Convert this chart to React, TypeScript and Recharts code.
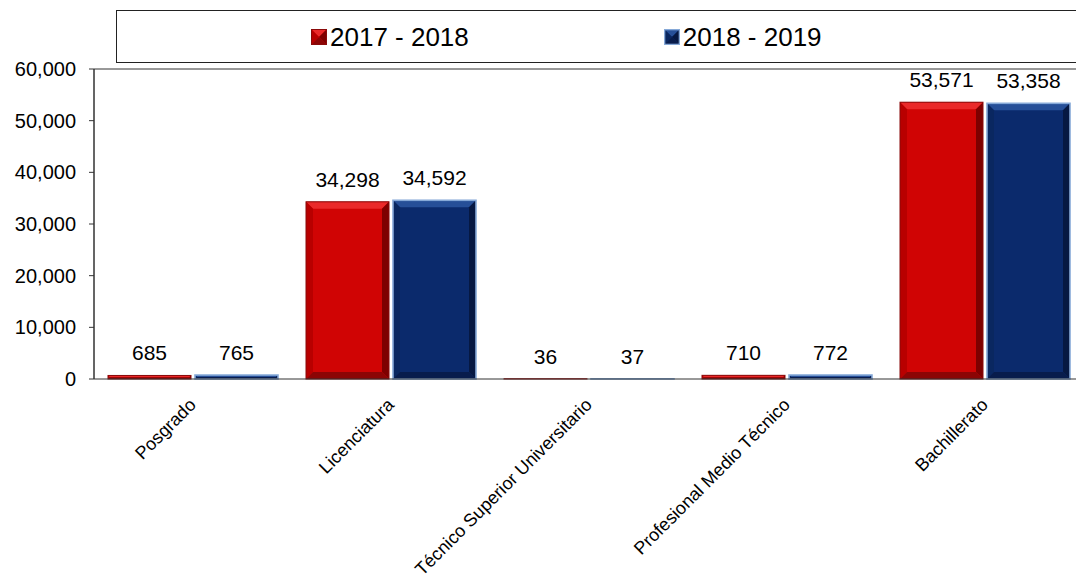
import React from 'react';
import { BarChart, Bar, XAxis, YAxis, CartesianGrid, LabelList, ReferenceLine } from 'recharts';

const categories = ['Posgrado', 'Licenciatura', 'Técnico Superior Universitario', 'Profesional Medio Técnico', 'Bachillerato'];
const series2017 = [685, 34298, 36, 710, 53571];
const series2018 = [765, 34592, 37, 772, 53358];
const seriesNames = ['2017 - 2018', '2018 - 2019'];
const yTicks = [0, 10000, 20000, 30000, 40000, 50000, 60000];
const gridTicks = [0, 1, 2, 3, 4, 5];

const data = categories.map((c, i) => ({ name: c, a: series2017[i], b: series2018[i] }));

const FONT = "Arial, 'Liberation Sans', sans-serif";
const fmt = (v: any) => Number(v).toLocaleString('en-US');

type Pal = { base: string; top: string; left: string; right: string; bottom: string; outline: string; ow: number };
const RED: Pal = { base: '#D00404', top: '#EA2A2A', left: '#B80000', right: '#7E0000', bottom: '#8C0505', outline: '#8A0A0A', ow: 1 };
const BLUE: Pal = { base: '#0B2A6C', top: '#264F98', left: '#0A2760', right: '#061842', bottom: '#081C4C', outline: '#86A9D8', ow: 1.6 };

function bevel(x: number, y: number, w: number, h: number, p: Pal, key?: string) {
  const b = Math.min(7, h / 2, w / 2);
  return (
    <g key={key}>
      <rect x={x} y={y} width={w} height={h} fill={p.base} />
      <polygon points={`${x},${y} ${x + w},${y} ${x + w - b},${y + b} ${x + b},${y + b}`} fill={p.top} />
      <polygon points={`${x},${y} ${x + b},${y + b} ${x + b},${y + h - b} ${x},${y + h}`} fill={p.left} />
      <polygon points={`${x + w},${y} ${x + w},${y + h} ${x + w - b},${y + h - b} ${x + w - b},${y + b}`} fill={p.right} />
      <polygon points={`${x},${y + h} ${x + w},${y + h} ${x + w - b},${y + h - b} ${x + b},${y + h - b}`} fill={p.bottom} />
      <rect x={x} y={y} width={w} height={h} fill="none" stroke={p.outline} strokeWidth={p.ow} />
    </g>
  );
}

const makeShape = (p: Pal) => (props: any) => {
  const { x, y, width, height } = props;
  if (!width || !height || height <= 0) return <g />;
  return bevel(x, y, width, height, p);
};

const CatTick = (props: any) => {
  const { x, y, payload } = props;
  const ax = x + 4;
  const ay = y + 27;
  return (
    <text x={ax} y={ay} textAnchor="end" transform={`rotate(-45, ${ax}, ${ay})`} fontSize={18} fontFamily={FONT} fill="#000">
      {payload.value}
    </text>
  );
};

const LegendBox = () => (
  <div
    style={{
      position: 'absolute', left: 116, top: 10, width: 896, height: 51, border: '1px solid #222',
      display: 'flex', alignItems: 'center', paddingLeft: 194, boxSizing: 'content-box', background: '#fff',
    }}
  >
    {seriesNames.map((n, i) => (
      <div key={n} style={{ display: 'flex', alignItems: 'center', marginRight: 195 }}>
        <svg width={16} height={16} style={{ marginRight: 3 }}>
          {bevel(0.5, 0.5, 15, 15, i === 0 ? RED : BLUE)}
        </svg>
        <span style={{ fontFamily: FONT, fontSize: 26, color: '#000', lineHeight: 1 }}>{n}</span>
      </div>
    ))}
  </div>
);

export default function App() {
  return (
    <div style={{ position: 'fixed', left: 0, top: 0, width: 1076, height: 579, overflow: 'hidden', background: '#fff' }}>
      <BarChart
        width={1094}
        height={579}
        data={data}
        margin={{ top: 69, right: 10, bottom: 0, left: 0 }}
        barCategoryGap={14}
        barGap={4}
      >
        <XAxis
          xAxisId="grid"
          type="number"
          domain={[0, 5]}
          ticks={gridTicks}
          height={0}
          tick={false}
          axisLine={false}
          tickSize={5}
          tickLine={{ stroke: '#333' }}
        />
        <XAxis
          dataKey="name"
          interval={0}
          height={200}
          tickLine={false}
          tickSize={0}
          tickMargin={0}
          axisLine={{ stroke: '#333' }}
          tick={<CatTick />}
        />
        <YAxis
          width={94}
          domain={[0, 60000]}
          ticks={yTicks}
          tickFormatter={fmt}
          tickSize={5}
          tickMargin={13}
          axisLine={{ stroke: '#333' }}
          tickLine={{ stroke: '#333' }}
          tick={{ fontSize: 20, fill: '#000', fontFamily: FONT }}
        />
        <CartesianGrid xAxisId="grid" horizontal={false} vertical stroke="#333" />
        <ReferenceLine y={60000} stroke="#333" />
        <Bar dataKey="a" name={seriesNames[0]} isAnimationActive={false} shape={makeShape(RED)}>
          <LabelList dataKey="a" position="top" offset={15} formatter={fmt} fontSize={21} fill="#000" fontFamily={FONT} />
        </Bar>
        <Bar dataKey="b" name={seriesNames[1]} isAnimationActive={false} shape={makeShape(BLUE)}>
          <LabelList dataKey="b" position="top" offset={15} formatter={fmt} fontSize={21} fill="#000" fontFamily={FONT} />
        </Bar>
      </BarChart>
      <LegendBox />
    </div>
  );
}
